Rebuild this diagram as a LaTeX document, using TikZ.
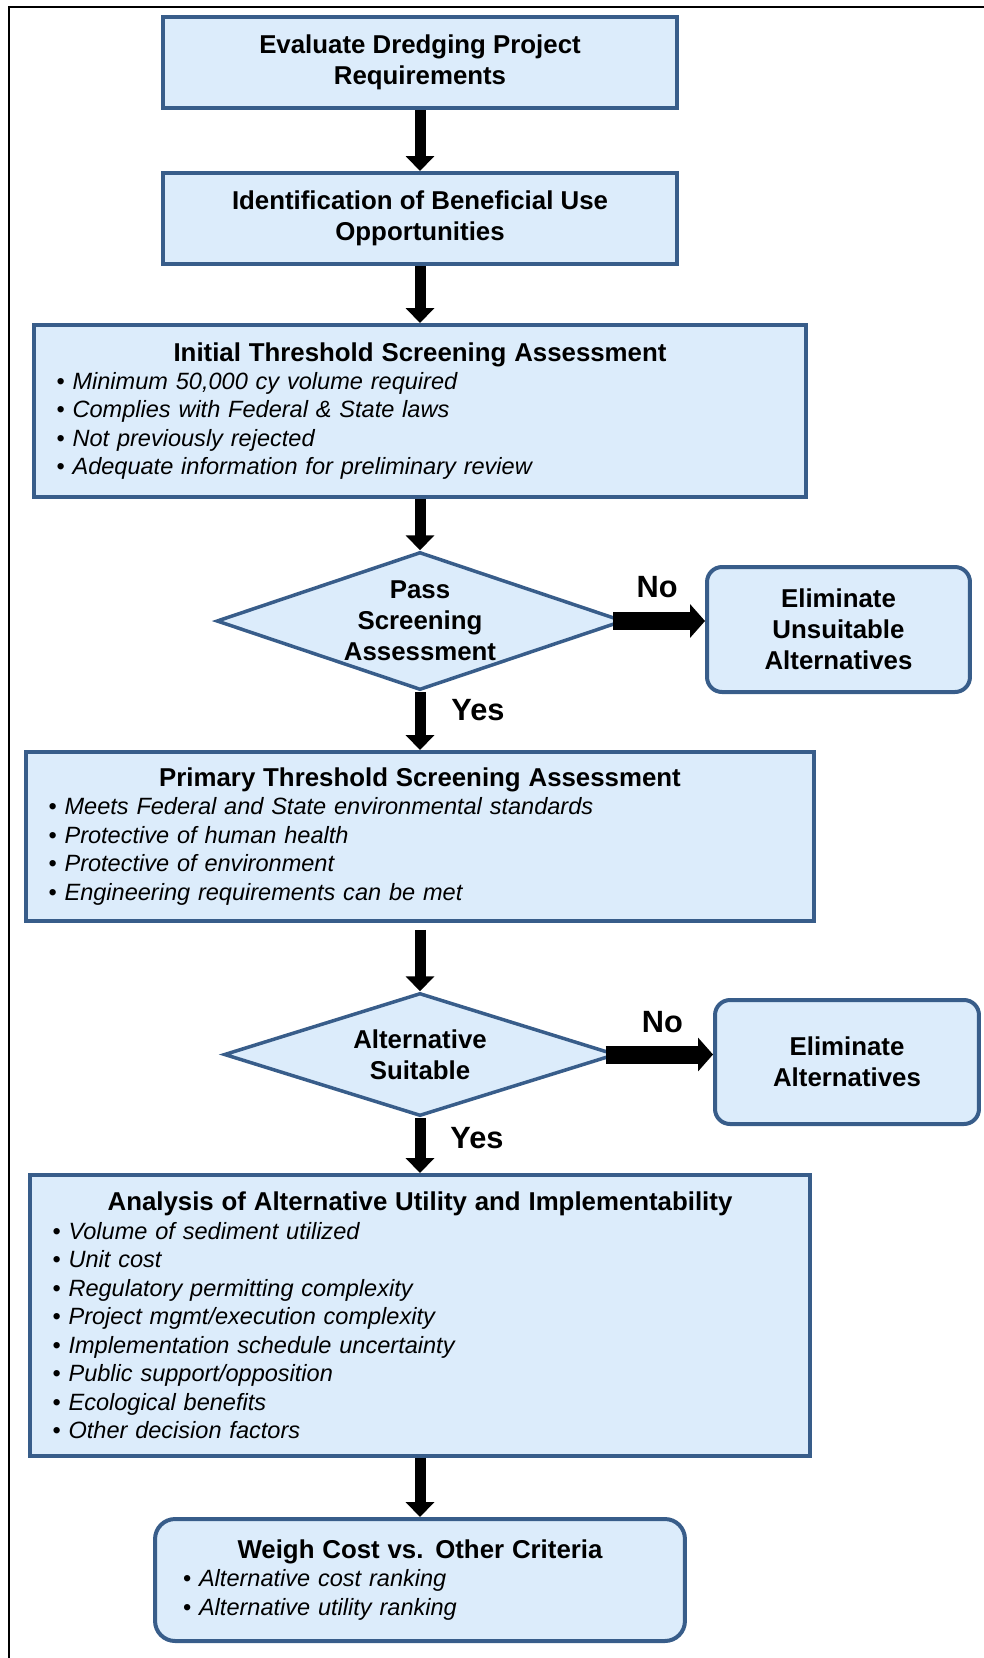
\documentclass[tikz,border=0pt]{standalone}
\usepackage{fontspec}
\setmainfont{Liberation Sans}
\usepackage{xcolor}
\usepackage{tikz}
\usetikzlibrary{shapes,arrows,positioning,calc,arrows.meta}

\definecolor{boxfill}{RGB}{220,236,251}
\definecolor{boxline}{RGB}{56,93,138}

\newcommand{\titlefont}{\fontsize{14.7}{17.6}\selectfont\bfseries}
\newcommand{\btitle}[1]{\makebox[\hsize]{\fontsize{14.7}{16.2}\selectfont\bfseries #1}}
\newcommand{\bitem}[1]{\makebox[0.32cm][l]{\textbullet}\textit{#1}}

\begin{document}
\begin{tikzpicture}[x=0.02cm, y=-0.02cm,
    box/.style={draw=boxline, fill=boxfill, line width=0.08cm, rectangle, inner sep=0pt},
    plainbox/.style={box, align=center, font=\titlefont},
    listbox/.style={box, align=left, inner xsep=0.46cm, font=\fontsize{13.4}{16.2}\selectfont},
    endbox/.style={box, rounded corners=0.3cm, align=center, font=\titlefont},
    decision/.style={draw=boxline, fill=boxfill, line width=0.07cm, diamond, inner sep=0pt, align=center, font=\titlefont},
    flow/.style={line width=0.22cm, -{Triangle[width=0.56cm,length=0.3cm]}},
    noflow/.style={line width=0.36cm, -{Triangle[width=0.66cm,length=0.3cm]}},
    tag/.style={inner sep=0pt, font=\fontsize{17.5}{17.5}\selectfont\bfseries}]

    \useasboundingbox (0,0) rectangle (984,1658);

    % page frame
    \draw[line width=0.04cm] (9,1658) -- (9,7) -- (984,7);

    % first steps
    \node[plainbox, minimum width=10.28cm, minimum height=1.82cm] (evaluate) at (420,62.5) {Evaluate Dredging Project\\Requirements};
    \node[plainbox, minimum width=10.28cm, minimum height=1.82cm] (identify) at (420,218.5) {Identification of Beneficial Use\\Opportunities};

    % initial screening
    \node[listbox, minimum width=15.46cm, minimum height=3.44cm, text width=14.54cm] (initial) at (420,411) {\btitle{Initial Threshold Screening Assessment}\\
        \bitem{Minimum 50,000 cy volume required}\\
        \bitem{Complies with Federal \& State laws}\\
        \bitem{Not previously rejected}\\
        \bitem{Adequate information for preliminary review}};

    \node[decision, aspect=2.95, minimum width=8.14cm, minimum height=2.76cm] (pass) at (420,621) {Pass\\Screening\\Assessment};
    \node[endbox, minimum width=5.26cm, minimum height=2.5cm] (elimA) at (838.5,629.5) {Eliminate\\Unsuitable\\Alternatives};

    % primary screening
    \node[listbox, minimum width=15.78cm, minimum height=3.38cm, text width=14.86cm] (primary) at (420,836.5) {\btitle{Primary Threshold Screening Assessment}\\
        \bitem{Meets Federal and State environmental standards}\\
        \bitem{Protective of human health}\\
        \bitem{Protective of environment}\\
        \bitem{Engineering requirements can be met}};

    \node[decision, aspect=3.19, minimum width=7.84cm, minimum height=2.46cm] (suitable) at (420,1054.5) {Alternative\\Suitable};
    \node[endbox, minimum width=5.28cm, minimum height=2.48cm] (elimB) at (847,1062) {Eliminate\\Alternatives};

    % analysis
    \node[listbox, minimum width=15.62cm, minimum height=5.62cm, text width=14.7cm] (analysis) at (420,1315.5) {\btitle{Analysis of Alternative Utility and Implementability}\\
        \bitem{Volume of sediment utilized}\\
        \bitem{Unit cost}\\
        \bitem{Regulatory permitting complexity}\\
        \bitem{Project mgmt/execution complexity}\\
        \bitem{Implementation schedule uncertainty}\\
        \bitem{Public support/opposition}\\
        \bitem{Ecological benefits}\\
        \bitem{Other decision factors}};

    \node[listbox, rounded corners=0.4cm, inner xsep=0.56cm, minimum width=10.6cm, minimum height=2.44cm, text width=9.48cm] (weigh) at (420,1580) {\btitle{Weigh Cost vs. Other Criteria}\\
        \bitem{Alternative cost ranking}\\
        \bitem{Alternative utility ranking}};

    % connectors
    \draw[flow] (evaluate) -- (identify);
    \draw[flow] (identify) -- (initial);
    \draw[flow] (initial) -- (pass);
    \draw[flow] (pass.south) -- (primary.north) node[tag, pos=0.31, right=0.52cm] {Yes};
    \draw[noflow] ([xshift=-0.24cm]pass.east) -- (pass.east -| elimA.west) node[tag, midway, above=0.28cm, xshift=-0.04cm] {No};
    \draw[flow] ([yshift=-0.14cm]primary.south) -- (suitable.north);
    \draw[flow] (suitable.south) -- (analysis.north) node[tag, pos=0.36, right=0.5cm] {Yes};
    \draw[noflow] ([xshift=-0.24cm]suitable.east) -- (suitable.east -| elimB.west) node[tag, midway, above=0.26cm, xshift=0.06cm] {No};
    \draw[flow] (analysis) -- (weigh);
\end{tikzpicture}
\end{document}
